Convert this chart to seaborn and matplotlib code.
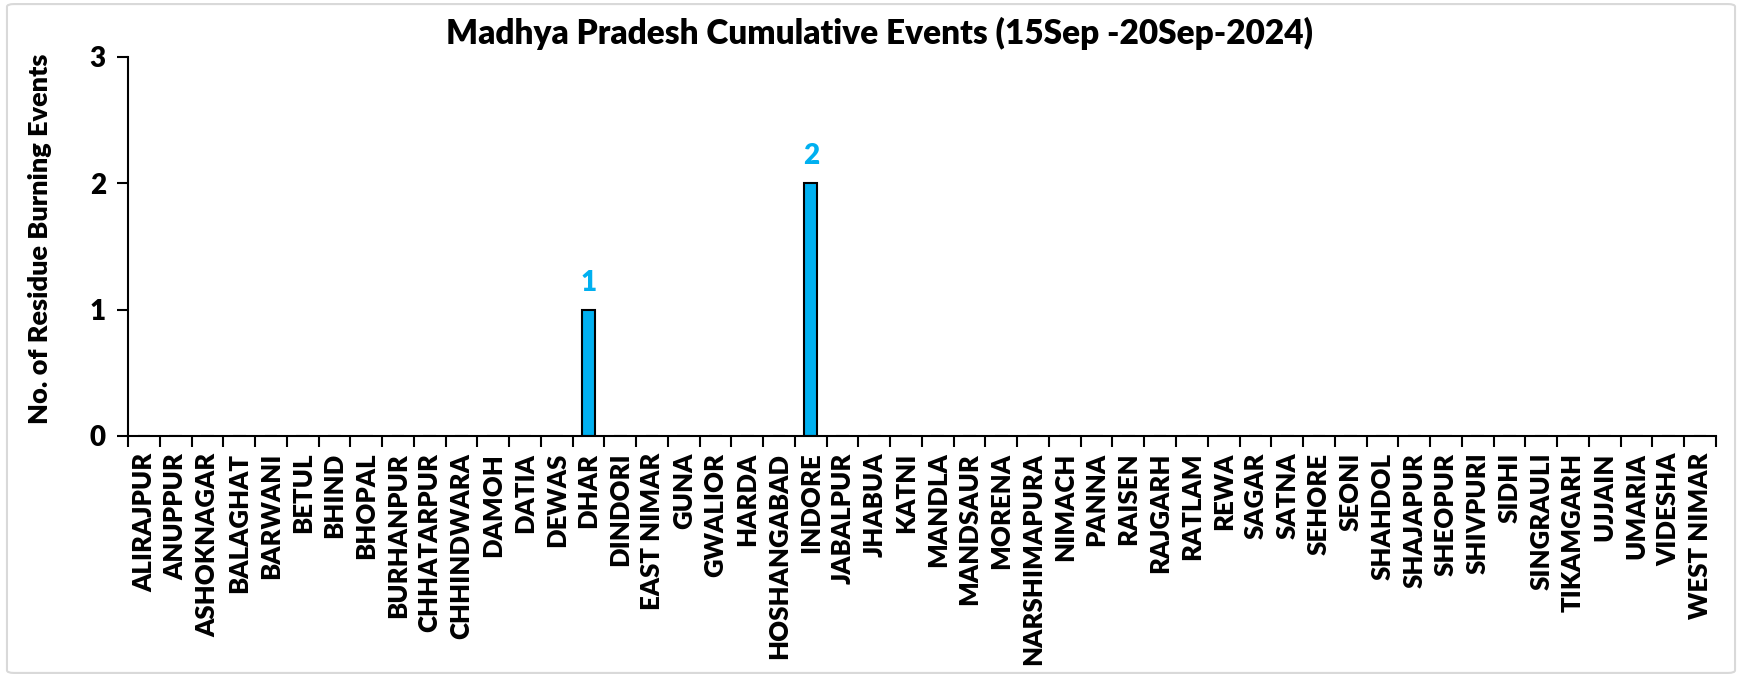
import numpy as np
import pandas as pd
import matplotlib
matplotlib.use("Agg")
import matplotlib.pyplot as plt
from matplotlib.patches import FancyBboxPatch
import seaborn as sns

# district names and cumulative events
districts = [
    "ALIRAJPUR", "ANUPPUR", "ASHOKNAGAR", "BALAGHAT", "BARWANI", "BETUL",
    "BHIND", "BHOPAL", "BURHANPUR", "CHHATARPUR", "CHHINDWARA", "DAMOH",
    "DATIA", "DEWAS", "DHAR", "DINDORI", "EAST NIMAR", "GUNA", "GWALIOR",
    "HARDA", "HOSHANGABAD", "INDORE", "JABALPUR", "JHABUA", "KATNI",
    "MANDLA", "MANDSAUR", "MORENA", "NARSHIMAPURA", "NIMACH", "PANNA",
    "RAISEN", "RAJGARH", "RATLAM", "REWA", "SAGAR", "SATNA", "SEHORE",
    "SEONI", "SHAHDOL", "SHAJAPUR", "SHEOPUR", "SHIVPURI", "SIDHI",
    "SINGRAULI", "TIKAMGARH", "UJJAIN", "UMARIA", "VIDESHA", "WEST NIMAR",
]
events = [0] * len(districts)
events[districts.index("DHAR")] = 1
events[districts.index("INDORE")] = 2

y_ticks = [0, 1, 2, 3]

df = pd.DataFrame({"District": districts, "Events": events})

sns.set_theme(style="white")
plt.rcParams["font.family"] = ["Lato", "DejaVu Sans"]
plt.rcParams["text.color"] = "black"
plt.rcParams["xtick.color"] = "black"
plt.rcParams["ytick.color"] = "black"
plt.rcParams["axes.labelcolor"] = "black"
W = "heavy"

fig = plt.figure(figsize=(17.42, 6.77), dpi=100)
ax = fig.add_axes([0.0735, 0.356, 0.9115, 0.56])

# bar chart
sns.barplot(data=df, x="District", y="Events", color="#00B0F0",
            edgecolor="black", linewidth=1.5, width=0.4, saturation=1, ax=ax)

# data labels only for non-zero bars
for cont in ax.containers:
    labels = [str(v) if v > 0 else "" for v in df["Events"]]
    ax.bar_label(cont, labels=labels, padding=10, color="#00B0F0",
                 fontsize=20, fontweight=W)

n = len(districts)
ax.set_xlim(-0.5, n - 0.5)
ax.set_ylim(0, 3)
ax.set_yticks(y_ticks)
ax.set_yticklabels([str(t) for t in y_ticks], fontsize=20, fontweight=W)

# category labels, tick marks between categories
ax.set_xticks(range(n))
ax.set_xticklabels(districts, rotation=90, fontsize=18.5, fontweight=W)
ax.set_xticks(np.arange(-0.5, n), minor=True)
ax.tick_params(axis="x", which="major", length=0, pad=12)
ax.tick_params(axis="x", which="minor", length=8, width=1.5, color="black",
               direction="out", bottom=True)
ax.tick_params(axis="y", length=8, width=1.5, color="black",
               direction="out", left=True, pad=8)

for s in ["top", "right"]:
    ax.spines[s].set_visible(False)
for s in ["left", "bottom"]:
    ax.spines[s].set_color("black")
    ax.spines[s].set_linewidth(1.5)

ax.set_xlabel("")
ax.set_ylabel("No. of Residue Burning Events", fontsize=19.5, fontweight=W)
ax.yaxis.set_label_coords(-0.048, 0.52)

fig.text(0.505, 0.95, "Madhya Pradesh Cumulative Events (15Sep -20Sep-2024)",
         ha="center", va="center", fontsize=24, fontweight=W)

# chart area border
border = FancyBboxPatch((0.004, 0.006), 0.992, 0.988,
                        boxstyle="round,pad=0,rounding_size=0.004",
                        transform=fig.transFigure, fill=False,
                        edgecolor="#D9D9D9", linewidth=1.5)
fig.patches.append(border)

fig.savefig("out.png", dpi=100)
